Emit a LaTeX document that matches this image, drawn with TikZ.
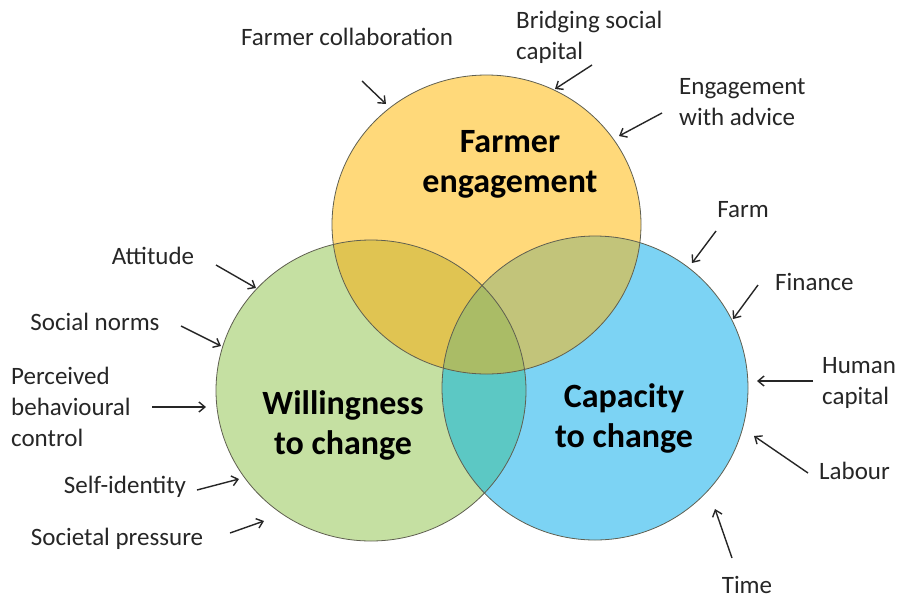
\documentclass[tikz,border=0pt]{standalone}
\usepackage{fontspec}
\setmainfont{Carlito}
\usepackage{tikz}
\usetikzlibrary{arrows.meta}
\definecolor{fyellow}{RGB}{255,217,122}
\definecolor{fgreen}{RGB}{197,224,162}
\definecolor{fblue}{RGB}{124,211,244}
\definecolor{fyg}{RGB}{224,196,82}
\definecolor{fyb}{RGB}{194,196,122}
\definecolor{fgb}{RGB}{92,200,196}
\definecolor{fall}{RGB}{170,188,102}
\definecolor{rim}{RGB}{95,95,80}
\definecolor{ink}{RGB}{38,38,38}
\tikzstyle{lbl} = [ text = ink, font = \fontsize{25}{31}\selectfont, %
                    inner sep = 0pt ]
\tikzstyle{big} = [ text = black, font = \fontsize{34}{40}\selectfont\bfseries, %
                    align = center, inner sep = 0pt ]
\tikzstyle{arrow} = [ink, line width = 1.4pt, -{Straight Barb[length=6pt,width=10pt]}]
\tikzstyle{rimline} = [draw = rim, line width = 0.8pt]
\newcommand{\eng}{(486.5,224.5) ellipse [x radius=154.5, y radius=149.5]}
\newcommand{\will}{(371,390.5) ellipse [x radius=155, y radius=150.5]}
\newcommand{\capa}{(595,388) ellipse [x radius=153, y radius=152]}

\begin{document}
\begin{tikzpicture}[x=1pt, y=-1pt]
      \useasboundingbox (0,0) rectangle (903,598);
      % Circles
      \fill [fgreen]  \will;
      \fill [fblue]   \capa;
      \fill [fyellow] \eng;
      \begin{scope}
        \clip \will;
        \fill [fgb] \capa;
        \fill [fyg] \eng;
        \clip \capa;
        \fill [fall] \eng;
      \end{scope}
      \begin{scope}
        \clip \capa;
        \clip \eng;
        \fill [fyb] (300,50) rectangle (800,400);
        \clip \will;
        \fill [fall] (300,50) rectangle (800,400);
      \end{scope}
      \draw [rimline] \will;
      \draw [rimline] \capa;
      \draw [rimline] \eng;
      % Circle titles
      \node (engage) [big] at (510,164) {Farmer\\engagement};
      \node (willing) [big] at (343,425) {Willingness\\to change};
      \node (capacity) [big] at (624,418) {Capacity\\to change};
      % Labels
      \node (collab) [lbl] at (347,37) {Farmer collaboration};
      \node (bridge) [lbl,anchor=west,align=left] at (516,37) %
        {Bridging social\\capital};
      \node (advice) [lbl,anchor=west,align=left] at (679,102) %
        {Engagement\\with advice};
      \node (farm) [lbl] at (743,210) {Farm};
      \node (finance) [lbl,anchor=west] at (775,282) {Finance};
      \node (human) [lbl,anchor=west,align=left] at (822,383) %
        {Human\\capital};
      \node (labour) [lbl,anchor=west] at (819,471) {Labour};
      \node (time) [lbl] at (747,585) {Time};
      \node (attitude) [lbl] at (153,256) {Attitude};
      \node (norms) [lbl] at (95,322) {Social norms};
      \node (pbc) [lbl,anchor=west,align=left] at (11,407) %
        {Perceived\\behavioural\\control};
      \node (self) [lbl] at (125,487) {Self-identity};
      \node (pressure) [lbl] at (117,539) {Societal pressure};
      % Arrow ends
      \coordinate (collab-a) at (362,81);   \coordinate (collab-b) at (386,104);
      \coordinate (bridge-a) at (592,65);   \coordinate (bridge-b) at (555,89);
      \coordinate (advice-a) at (662,113);  \coordinate (advice-b) at (619,136);
      \coordinate (farm-a) at (716,231);    \coordinate (farm-b) at (692,263);
      \coordinate (finance-a) at (758,285); \coordinate (finance-b) at (733,319);
      \coordinate (human-a) at (813,381);   \coordinate (human-b) at (757,381);
      \coordinate (labour-a) at (808,473);  \coordinate (labour-b) at (754,436);
      \coordinate (time-a) at (732,558);    \coordinate (time-b) at (715,509);
      \coordinate (attitude-a) at (216,265);\coordinate (attitude-b) at (256,288);
      \coordinate (norms-a) at (181,326);   \coordinate (norms-b) at (221,346);
      \coordinate (pbc-a) at (152,407);     \coordinate (pbc-b) at (206,407);
      \coordinate (self-a) at (197,490);    \coordinate (self-b) at (239,479);
      \coordinate (pressure-a) at (230,533);\coordinate (pressure-b) at (264,521);
      % Arrows
      \draw [arrow] (collab-a) -- (collab-b);
      \draw [arrow] (bridge-a) -- (bridge-b);
      \draw [arrow] (advice-a) -- (advice-b);
      \draw [arrow] (farm-a) -- (farm-b);
      \draw [arrow] (finance-a) -- (finance-b);
      \draw [arrow] (human-a) -- (human-b);
      \draw [arrow] (labour-a) -- (labour-b);
      \draw [arrow] (time-a) -- (time-b);
      \draw [arrow] (attitude-a) -- (attitude-b);
      \draw [arrow] (norms-a) -- (norms-b);
      \draw [arrow] (pbc-a) -- (pbc-b);
      \draw [arrow] (self-a) -- (self-b);
      \draw [arrow] (pressure-a) -- (pressure-b);
    \end{tikzpicture}
\end{document}
